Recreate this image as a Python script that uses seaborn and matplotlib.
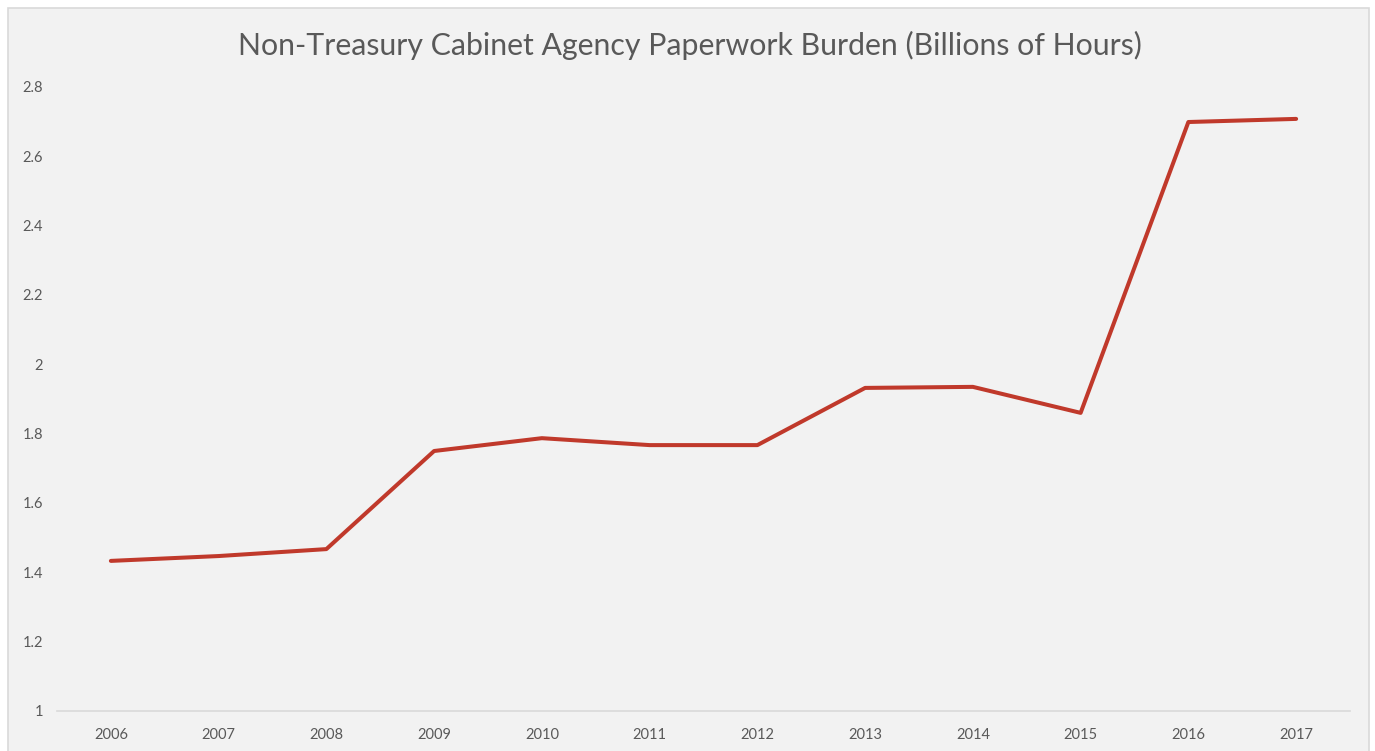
import matplotlib
matplotlib.use('Agg')
import matplotlib.pyplot as plt
import matplotlib.patches as patches
import seaborn as sns
import pandas as pd

years = [2006, 2007, 2008, 2009, 2010, 2011, 2012, 2013, 2014, 2015, 2016, 2017]
burden = [1.433, 1.447, 1.467, 1.750, 1.787, 1.767, 1.767, 1.932, 1.935, 1.860, 2.699, 2.708]
y_ticks = [1, 1.2, 1.4, 1.6, 1.8, 2, 2.2, 2.4, 2.6, 2.8]
y_labels = ['1', '1.2', '1.4', '1.6', '1.8', '2', '2.2', '2.4', '2.6', '2.8']

sns.set_style('white')
plt.rcParams['font.family'] = ['Lato', 'DejaVu Sans']

df = pd.DataFrame({'year': years, 'burden': burden})

fig = plt.figure(figsize=(13.75, 7.51), dpi=100, facecolor='white')
# chart area frame, drawn behind the axes
frame = patches.Rectangle((8 / 1375, -0.01), 1361 / 1375, 1.0 - 8 / 751 + 0.01,
                          transform=fig.transFigure, facecolor='#f2f2f2',
                          edgecolor='#d9d9d9', linewidth=1.2, zorder=-10)
fig.patches.append(frame)

ax = fig.add_axes([57 / 1375, 40 / 751, 1293 / 1375, 624 / 751])
ax.set_facecolor('none')
ax.set_zorder(5)

sns.lineplot(data=df, x='year', y='burden', ax=ax, color='#c0392b', linewidth=2.9)

ax.set_xlim(2005.5, 2017.5)
ax.set_ylim(1, 2.8)
ax.set_xticks(years)
ax.set_xticklabels([str(y) for y in years])
ax.set_yticks(y_ticks)
ax.set_yticklabels(y_labels)
ax.tick_params(axis='both', length=0, labelsize=10.5, labelcolor='#595959')
ax.tick_params(axis='x', pad=12)
ax.tick_params(axis='y', pad=10)

for s in ['top', 'right', 'left']:
    ax.spines[s].set_visible(False)
ax.spines['bottom'].set_color('#d9d9d9')
ax.spines['bottom'].set_linewidth(1.2)

ax.set_xlabel('')
ax.set_ylabel('')

fig.text(690 / 1375, 1 - 45 / 751, 'Non-Treasury Cabinet Agency Paperwork Burden (Billions of Hours)',
         ha='center', va='center', fontsize=21.8, color='#595959', zorder=6)

fig.savefig('out.png', dpi=100, facecolor='white')
